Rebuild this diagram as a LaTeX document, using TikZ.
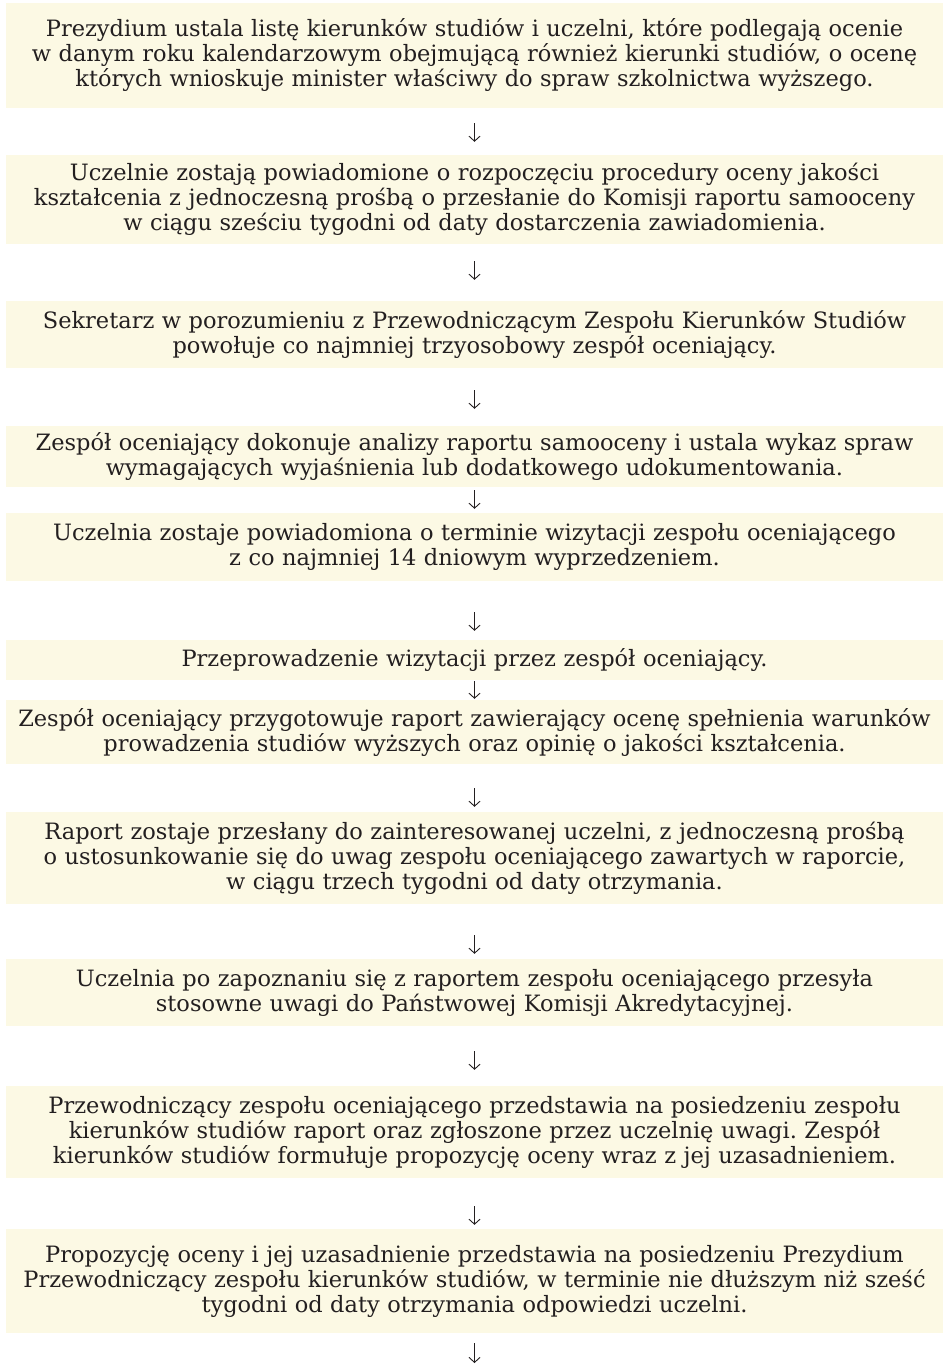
\documentclass[tikz,border=0pt]{standalone}
\usepackage{fontspec}
\setmainfont{DejaVu Serif}
\usetikzlibrary{arrows.meta}
\definecolor{boxfill}{HTML}{FCF9E4}
\definecolor{ink}{HTML}{231F20}
\begin{document}
\frenchspacing
\begin{tikzpicture}[x=1pt,y=-1pt,
  stepbox/.style={fill=boxfill, draw=none, minimum width=937pt, text width=937pt,
    align=center, inner sep=0pt, text=ink, font=\fontsize{22.5}{25}\selectfont},
  flow/.style={draw=ink, line width=0.9pt, -{Straight Barb[length=5pt,width=11pt]}},
]
\useasboundingbox (0,0) rectangle (943,1364);

\node[stepbox, minimum height=105pt] (b1) at (474.5,55.5) {Prezydium ustala listę kierunków studiów i uczelni, które podlegają ocenie\\ w danym roku kalendarzowym obejmującą również kierunki studiów, o ocenę\\ których wnioskuje minister właściwy do spraw szkolnictwa wyższego.};
\node[stepbox, minimum height=89pt] (b2) at (474.5,199.5) {Uczelnie zostają powiadomione o rozpoczęciu procedury oceny jakości\\ kształcenia z jednoczesną prośbą o przesłanie do Komisji raportu samooceny\\ w ciągu sześciu tygodni od daty dostarczenia zawiadomienia.};
\node[stepbox, minimum height=67pt] (b3) at (474.5,334.5) {Sekretarz w porozumieniu z Przewodniczącym Zespołu Kierunków Studiów\\ powołuje co najmniej trzyosobowy zespół oceniający.};
\node[stepbox, minimum height=61pt] (b4) at (474.5,456.5) {Zespół oceniający dokonuje analizy raportu samooceny i ustala wykaz spraw\\ wymagających wyjaśnienia lub dodatkowego udokumentowania.};
\node[stepbox, minimum height=68pt] (b5) at (474.5,547) {Uczelnia zostaje powiadomiona o terminie wizytacji zespołu oceniającego\\ z co najmniej 14 dniowym wyprzedzeniem.};
\node[stepbox, minimum height=40pt] (b6) at (474.5,660) {Przeprowadzenie wizytacji przez zespół oceniający.};
\node[stepbox, minimum height=64pt] (b7) at (474.5,732) {Zespół oceniający przygotowuje raport zawierający ocenę spełnienia warunków\\ prowadzenia studiów wyższych oraz opinię o jakości kształcenia.};
\node[stepbox, minimum height=92pt] (b8) at (474.5,858) {Raport zostaje przesłany do zainteresowanej uczelni, z jednoczesną prośbą\\ o ustosunkowanie się do uwag zespołu oceniającego zawartych w raporcie,\\ w ciągu trzech tygodni od daty otrzymania.};
\node[stepbox, minimum height=67pt] (b9) at (474.5,992.5) {Uczelnia po zapoznaniu się z raportem zespołu oceniającego przesyła\\ stosowne uwagi do Państwowej Komisji Akredytacyjnej.};
\node[stepbox, minimum height=92pt] (b10) at (474.5,1132) {Przewodniczący zespołu oceniającego przedstawia na posiedzeniu zespołu\\ kierunków studiów raport oraz zgłoszone przez uczelnię uwagi. Zespół\\ kierunków studiów formułuje propozycję oceny wraz z jej uzasadnieniem.};
\node[stepbox, minimum height=104pt] (b11) at (474.5,1281) {Propozycję oceny i jej uzasadnienie przedstawia na posiedzeniu Prezydium\\ Przewodniczący zespołu kierunków studiów, w terminie nie dłuższym niż sześć\\ tygodni od daty otrzymania odpowiedzi uczelni.};
\coordinate (end) at (474.5,1363);

\draw[flow, shorten <=15pt, shorten >=13pt] (b1) -- (b2);
\draw[flow, shorten <=17pt, shorten >=21pt] (b2) -- (b3);
\draw[flow, shorten <=22pt, shorten >=17pt] (b3) -- (b4);
\draw[flow, shorten <=3pt, shorten >=4pt] (b4) -- (b5);
\draw[flow, shorten <=31pt, shorten >=9pt] (b5) -- (b6);
\draw[flow, shorten <=1pt, shorten >=1pt] (b6) -- (b7);
\draw[flow, shorten <=24pt, shorten >=5pt] (b7) -- (b8);
\draw[flow, shorten <=31pt, shorten >=5pt] (b8) -- (b9);
\draw[flow, shorten <=25pt, shorten >=16pt] (b9) -- (b10);
\draw[flow, shorten <=28pt, shorten >=4pt] (b10) -- (b11);
\draw[flow, shorten <=10pt] (b11) -- (end);
\end{tikzpicture}
\end{document}
